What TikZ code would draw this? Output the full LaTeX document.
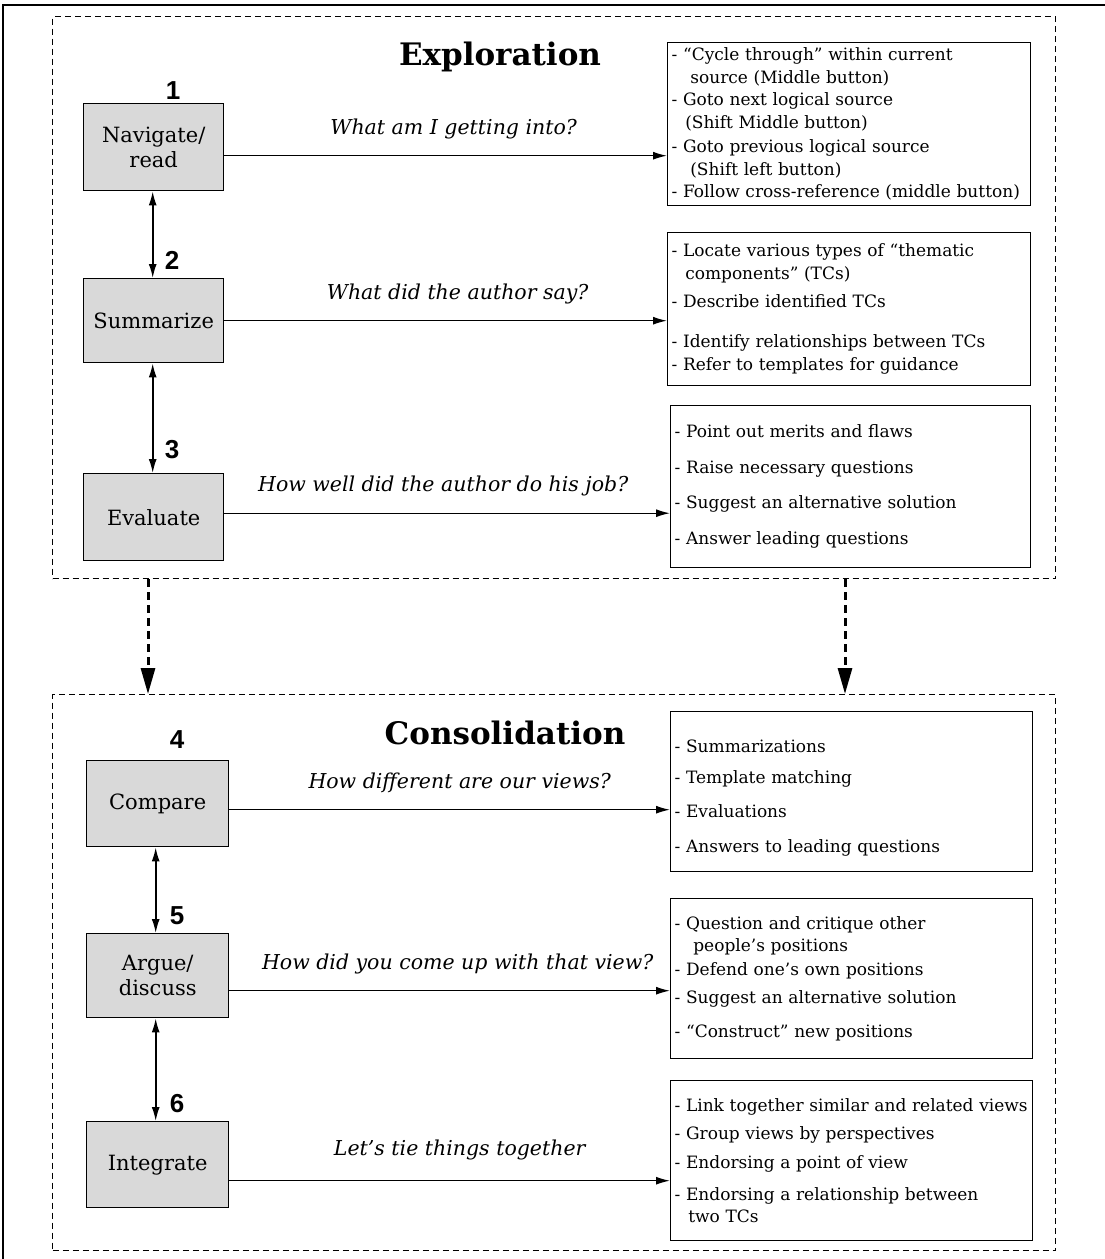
\documentclass[tikz,border=0pt]{standalone}
\usepackage{fontspec}
\setmainfont{DejaVu Serif}
\newfontfamily\numfont{Liberation Sans}
\usetikzlibrary{arrows.meta,calc}
\begin{document}
\begin{tikzpicture}[x=1pt,y=-1pt,
 stage/.style={draw,line width=1.4pt,fill=black!15,minimum width=140pt,minimum height=86pt,align=center,font=\fontsize{21}{25}\selectfont,anchor=north west,inner sep=0pt},
 list/.style={draw,line width=1.3pt,anchor=north west,align=left,inner xsep=4pt,inner ysep=0pt,font=\fontsize{17}{22.5}\selectfont},
 num/.style={font=\numfont\bfseries\fontsize{26}{26}\selectfont},
 ttl/.style={font=\bfseries\fontsize{31}{31}\selectfont},
 q/.style={font=\itshape\fontsize{20.5}{22}\selectfont},
 arr/.style={line width=1.4pt,-{Latex[length=14pt,width=8pt]}},
 darr/.style={line width=1.6pt,{Latex[length=14pt,width=8pt]}-{Latex[length=14pt,width=8pt]}},
 phase/.style={draw,dash pattern=on 6pt off 4pt,line width=1.3pt,anchor=north west,inner sep=0pt},
 flow/.style={line width=3pt,dash pattern=on 8pt off 5pt,-{Triangle[length=26pt,width=14pt]}}
]
\useasboundingbox (0,0) rectangle (1105,1259);
% outer frame
\draw[line width=1.5pt] (3,1259) -- (3,5) -- (1105,5);

% phase frames
\node[phase,minimum width=1003pt,minimum height=562pt] (explore) at (52,16) {};
\node[phase,minimum width=1003pt,minimum height=556pt] (consol) at (52,694) {};
\node[ttl] (t1) at (500,57) {Exploration};
\node[ttl] (t2) at (505,733) {Consolidation};

% stages
\node[stage,minimum height=87pt] (nav) at (83,103) {Navigate/\\read};
\node[stage,minimum height=84pt] (sum) at (83,278) {Summarize};
\node[stage,minimum height=87pt] (eva) at (83,473) {Evaluate};
\node[stage,minimum width=142pt] (cmp) at (86,760) {Compare};
\node[stage,minimum width=142pt,minimum height=84pt] (arg) at (86,933) {Argue/\\discuss};
\node[stage,minimum width=142pt,minimum height=86pt] (int) at (86,1121) {Integrate};

% numbers
\node[num] (n1) at (173,91) {1};
\node[num] (n2) at (172,260) {2};
\node[num] (n3) at (172,450) {3};
\node[num] (n4) at (177,740) {4};
\node[num] (n5) at (177,916) {5};
\node[num] (n6) at (177,1104) {6};

% lists
\node[list,text width=355pt,minimum height=163pt] (rb1) at (667,42) {%
- “Cycle through” within current\\
\hspace*{1.1em}source (Middle button)\\
- Goto next logical source\\
\hspace*{0.8em}(Shift Middle button)\\[2pt]
- Goto previous logical source\\
\hspace*{1.1em}(Shift left button)\\
- Follow cross-reference (middle button)};
\node[list,text width=355pt,minimum height=153pt] (rb2) at (667,232) {%
- Locate various types of “thematic\\
\hspace*{0.8em}components” (TCs)\\[6pt]
- Describe identified TCs\\[17pt]
- Identify relationships between TCs\\[1pt]
- Refer to templates for guidance};
\node[list,text width=352pt,minimum height=162pt] (rb3) at (670,405) {%
- Point out merits and flaws\\[13pt]
- Raise necessary questions\\[13pt]
- Suggest an alternative solution\\[13pt]
- Answer leading questions};
\node[list,text width=354pt,minimum height=160pt] (rb4) at (670,711) {%
\rule{0pt}{25pt}- Summarizations\\[8pt]
- Template matching\\[12pt]
- Evaluations\\[12pt]
- Answers to leading questions};
\node[list,text width=354pt,minimum height=160pt] (rb5) at (670,898) {%
- Question and critique other\\
\hspace*{1.1em}people’s positions\\[1pt]
- Defend one’s own positions\\[6pt]
- Suggest an alternative solution\\[11pt]
- “Construct” new positions};
\node[list,text width=354pt,minimum height=160pt] (rb6) at (670,1080) {%
- Link together similar and related views\\[5pt]
- Group views by perspectives\\[7pt]
- Endorsing a point of view\\[9pt]
- Endorsing a relationship between\\
\hspace*{0.8em}two TCs};

% vertical double arrows
\draw[darr] ([xshift=-1pt]nav.south) -- ([xshift=-1pt]sum.north);
\draw[darr] ([xshift=-1pt]sum.south) -- ([xshift=-1pt]eva.north);
\draw[darr] ([xshift=-2pt]cmp.south) -- ([xshift=-2pt]arg.north);
\draw[darr] ([xshift=-2pt]arg.south) -- ([xshift=-2pt]int.north);

% horizontal arrows with questions
\draw[arr] ([yshift=-8.5pt]nav.east) -- ([yshift=-8.5pt]nav.east -| rb1.west)
  node[q,midway,above=13pt,xshift=8pt] (q1) {What am I getting into?};
\draw[arr] (sum.east) -- (sum.east -| rb2.west)
  node[q,midway,above=13pt,xshift=12pt] (q2) {What did the author say?};
\draw[arr] ([yshift=4pt]eva.east) -- ([yshift=4pt]eva.east -| rb3.west)
  node[q,midway,above=13pt,xshift=-4pt] (q3) {How well did the author do his job?};
\draw[arr] ([yshift=-6pt]cmp.east) -- ([yshift=-6pt]cmp.east -| rb4.west)
  node[q,midway,above=13pt,xshift=10pt] (q4) {How different are our views?};
\draw[arr] ([yshift=-15pt]arg.east) -- ([yshift=-15pt]arg.east -| rb5.west)
  node[q,midway,above=13pt,xshift=8pt] (q5) {How did you come up with that view?};
\draw[arr] ([yshift=-16pt]int.east) -- ([yshift=-16pt]int.east -| rb6.west)
  node[q,midway,above=17pt,xshift=10pt] (q6) {Let’s tie things together};

% flow arrows between phases
\coordinate (fa) at (148,0);
\coordinate (fb) at (845,0);
\draw[flow] (fa |- explore.south) -- (fa |- consol.north);
\draw[flow] (fb |- explore.south) -- (fb |- consol.north);
\end{tikzpicture}
\end{document}
